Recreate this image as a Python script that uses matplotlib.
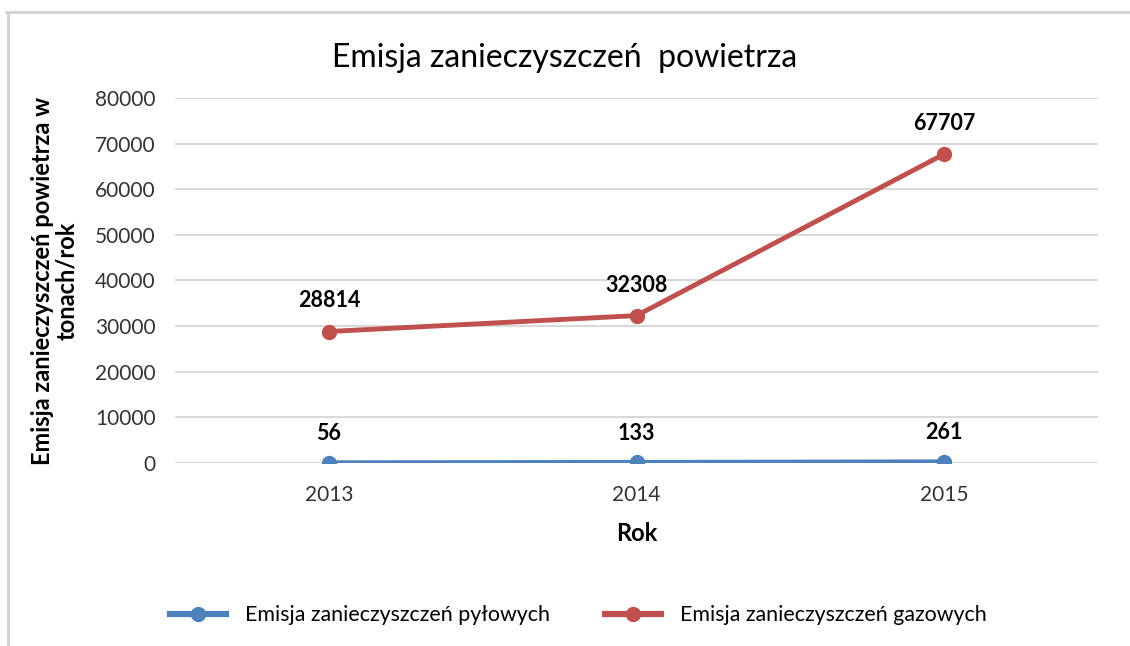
import matplotlib
matplotlib.use("Agg")
import matplotlib.pyplot as plt
from matplotlib.lines import Line2D

plt.rcParams['font.family'] = ['Lato', 'DejaVu Sans']

years = ['2013', '2014', '2015']
pylowe = [56, 133, 261]
gazowe = [28814, 32308, 67707]
y_ticks = [0, 10000, 20000, 30000, 40000, 50000, 60000, 70000, 80000]

blue = '#4F81BD'
red = '#C0504D'
grid_col = '#D9D9D9'

fig = plt.figure(figsize=(11.3, 6.46), dpi=100)
ax = fig.add_axes([0.1549, 0.2833, 0.8168, 0.565])

x = list(range(len(years)))
ax.plot(x, pylowe, color=blue, lw=3.5, marker='o', ms=10, solid_capstyle='round',
        label='Emisja zanieczyszczeń pyłowych', zorder=3)
ax.plot(x, gazowe, color=red, lw=3.5, marker='o', ms=10, solid_capstyle='round',
        label='Emisja zanieczyszczeń gazowych', zorder=3)

for xi, v in zip(x, pylowe):
    ax.annotate(str(v), (xi, v), xytext=(0, 21), textcoords='offset points',
                ha='center', va='center', fontsize=15.5, fontweight='bold')
for xi, v in zip(x, gazowe):
    ax.annotate(str(v), (xi, v), xytext=(0, 22), textcoords='offset points',
                ha='center', va='center', fontsize=15.5, fontweight='bold')

ax.set_xlim(-0.5, 2.5)
ax.set_ylim(0, 80000)
ax.set_yticks(y_ticks)
ax.set_yticklabels([str(t) for t in y_ticks])
ax.set_xticks(x)
ax.set_xticklabels(years)
ax.tick_params(axis='both', length=0, labelsize=15, colors='#333333')
ax.tick_params(axis='x', pad=16)
ax.tick_params(axis='y', pad=14)
ax.grid(axis='y', color=grid_col, lw=1.5)
ax.set_axisbelow(True)
for s in ax.spines.values():
    s.set_visible(False)

ax.set_xlabel('Rok', fontsize=17, fontweight='bold', labelpad=12)
ax.set_ylabel('Emisja zanieczyszczeń powietrza w\ntonach/rok', fontsize=17,
              fontweight='bold', labelpad=12, linespacing=1.05)

fig.text(0.5, 0.91, 'Emisja zanieczyszczeń  powietrza', ha='center', va='center',
         fontsize=23)

handles = [Line2D([0], [0], color=blue, lw=4.5, marker='o', ms=10),
           Line2D([0], [0], color=red, lw=4.5, marker='o', ms=10)]
fig.legend(handles, ['Emisja zanieczyszczeń pyłowych', 'Emisja zanieczyszczeń gazowych'],
           loc='center', bbox_to_anchor=(0.512, 0.048), ncol=2, frameon=False,
           fontsize=15.4, handlelength=2.6, handletextpad=0.9, columnspacing=2.6)

# chart frame
fig.add_artist(Line2D([0.005, 1.0], [0.982, 0.982], color='#D0D0D0', lw=2))
fig.add_artist(Line2D([0.007, 0.007], [0.0, 0.982], color='#D0D0D0', lw=2))

fig.savefig('out.png', dpi=100)
